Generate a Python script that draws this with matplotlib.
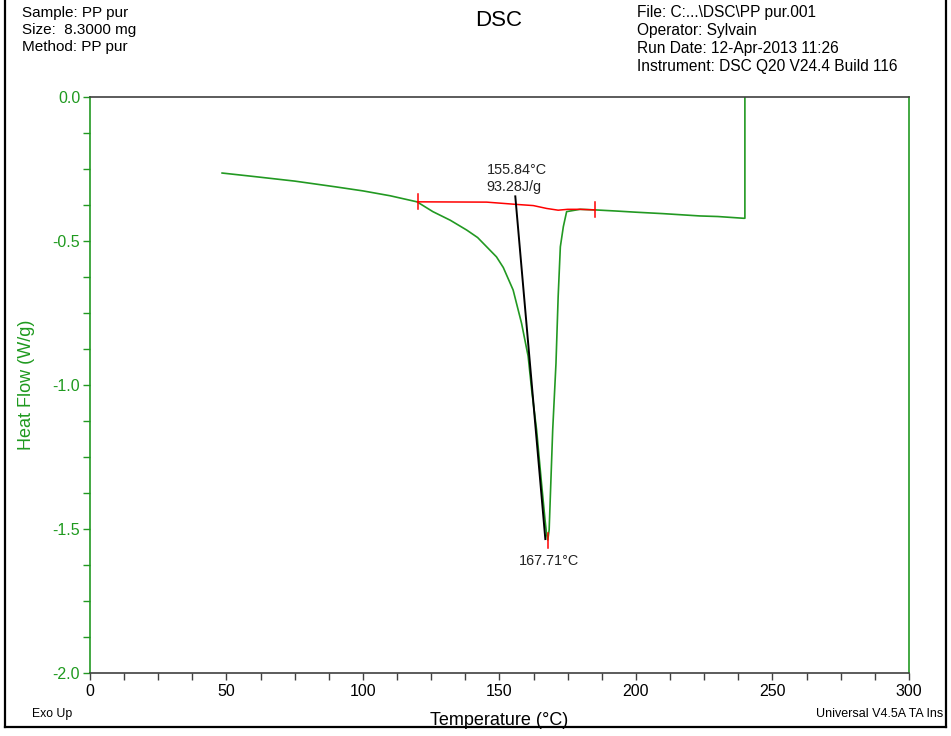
import numpy as np
import matplotlib
matplotlib.use("Agg")
from matplotlib import pyplot as plt
from matplotlib.lines import Line2D

plt.rcParams['font.family'] = ['Liberation Sans', 'DejaVu Sans']

# heat flow curve (temperature in C, heat flow in W/g)
temp = [48.4, 60, 75, 90, 100, 110, 119.8, 125.6, 132, 138, 142, 145.3, 148.9,
        151.4, 155, 158.1, 160.5, 161.8, 163.6, 165.4, 166.7, 167.3, 167.7,
        168.2, 169.5, 170.7, 171.5, 172.3, 173.4, 174.6, 179.5, 185, 192.9,
        200, 210, 223.4, 230, 239.3, 239.9, 239.9]
heat_flow = [-0.264, -0.276, -0.292, -0.312, -0.326, -0.343, -0.364, -0.398,
             -0.428, -0.462, -0.488, -0.52, -0.555, -0.592, -0.67, -0.786,
             -0.90, -1.017, -1.156, -1.341, -1.469, -1.521, -1.538, -1.503,
             -1.156, -0.925, -0.693, -0.52, -0.45, -0.398, -0.39, -0.392,
             -0.396, -0.400, -0.405, -0.413, -0.415, -0.421, -0.421, 0.2]

# integration baseline (red)
base_t = [120, 145.3, 156.3, 162.4, 167.3, 171.5, 175, 179.5, 185]
base_hf = [-0.364, -0.365, -0.373, -0.377, -0.387, -0.393, -0.390, -0.390, -0.392]

# onset tangent (black)
tan_t = [155.8, 166.8]
tan_hf = [-0.345, -1.535]

onset = 155.84
enthalpy = 93.28
peak = 167.71

green = '#229922'
label_green = '#1f9a1f'
gray = '#404040'

fig = plt.figure(figsize=(9.51, 7.36), dpi=100)
ax = fig.add_axes([0.0946, 0.0856, 0.8612, 0.7826])

ax.plot(temp, heat_flow, color=green, lw=1.2, clip_on=True)
ax.plot(base_t, base_hf, color='red', lw=1.1)
ax.plot(tan_t, tan_hf, color='black', lw=1.4)
# end marks of the baseline and peak mark
for t, hf in [(base_t[0], base_hf[0]), (base_t[-1], base_hf[-1])]:
    ax.plot([t, t], [hf - 0.026, hf + 0.026], color='red', lw=1.1)
ax.plot([peak, peak], [-1.514, -1.566], color='red', lw=1.1)

ax.text(145.3, -0.255, "{:.2f}°C".format(onset), fontsize=10.4, va='center', ha='left', color='#222222')
ax.text(145.3, -0.313, "{:.2f}J/g".format(enthalpy), fontsize=10.4, va='center', ha='left', color='#222222')
ax.text(168.1, -1.611, "{:.2f}°C".format(peak), fontsize=10.4, va='center', ha='center', color='#222222')

ax.set_xlim(0, 300)
ax.set_ylim(-2.0, 0.0)
ax.set_xticks(np.arange(0, 301, 50))
ax.set_xticks(np.arange(0, 301, 12.5), minor=True)
ax.set_yticks([-2.0, -1.5, -1.0, -0.5, 0.0])
ax.set_yticklabels(['-2.0', '-1.5', '-1.0', '-0.5', '0.0'])
ax.set_yticks(np.arange(-2.0, 0.01, 0.125), minor=True)

ax.tick_params(axis='x', which='both', direction='out', length=5, width=1, color=gray,
               labelsize=11.5, labelcolor='black', pad=3)
ax.tick_params(axis='y', which='both', direction='out', length=5, width=1, color=green,
               labelsize=11.5, labelcolor=label_green, pad=2)

ax.spines['left'].set_color(green)
ax.spines['right'].set_color(green)
ax.spines['top'].set_color(gray)
ax.spines['bottom'].set_color(gray)
for s in ax.spines.values():
    s.set_linewidth(1.2)

ax.set_xlabel("Temperature (°C)", fontsize=13, labelpad=9)
ax.set_ylabel("Heat Flow (W/g)", fontsize=13, color=label_green, labelpad=13)

# header
fig.text(22 / 951, 1 - 13 / 736, "Sample: PP pur", fontsize=11, va='center')
fig.text(22 / 951, 1 - 30 / 736, "Size:  8.3000 mg", fontsize=11, va='center')
fig.text(22 / 951, 1 - 47 / 736, "Method: PP pur", fontsize=11, va='center')
fig.text(499 / 951, 1 - 21 / 736, "DSC", fontsize=16, va='center', ha='center')
right_lines = ["File: C:...\\DSC\\PP pur.001", "Operator: Sylvain",
               "Run Date: 12-Apr-2013 11:26", "Instrument: DSC Q20 V24.4 Build 116"]
for i, s in enumerate(right_lines):
    fig.text(637 / 951, 1 - (13 + 18 * i) / 736, s, fontsize=11.2, va='center')

# footer
fig.text(32 / 951, 1 - 714 / 736, "Exo Up", fontsize=8.8, va='center')
fig.text(816 / 951, 1 - 714 / 736, "Universal V4.5A TA Ins", fontsize=9, va='center')

# page frame
x0, x1, yb = 5 / 951, 946 / 951, 1 - 727 / 736
fig.add_artist(Line2D([x0, x0], [yb, 1], color='black', lw=1.6, transform=fig.transFigure))
fig.add_artist(Line2D([x1, x1], [yb, 1], color='black', lw=1.6, transform=fig.transFigure))
fig.add_artist(Line2D([x0, x1], [yb, yb], color='black', lw=1.6, transform=fig.transFigure))

fig.savefig("out.png", dpi=100)
